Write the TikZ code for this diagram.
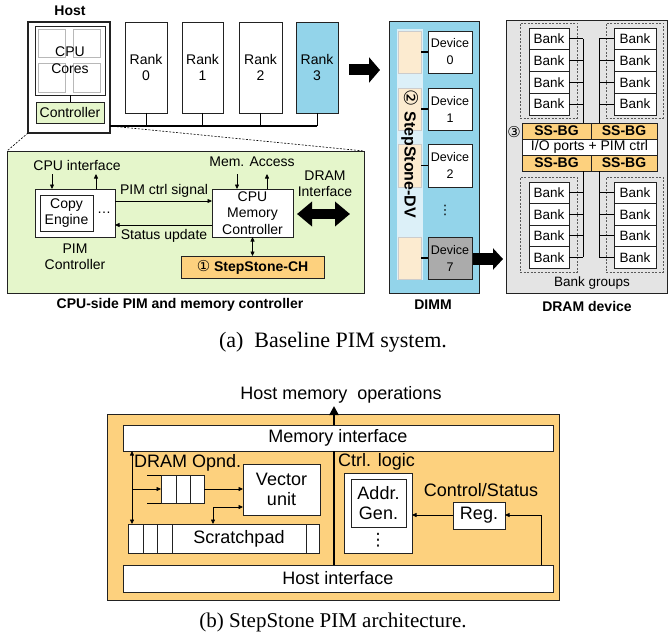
\documentclass[tikz,border=0pt]{standalone}
\usepackage{fontspec}
\setmainfont{Liberation Sans}
\newfontfamily\capfont{Liberation Serif}
\newfontfamily\symfont{DejaVu Sans}
\usetikzlibrary{arrows.meta}
\definecolor{cgreen}{HTML}{E5F6CB}
\definecolor{cblue}{HTML}{93D4EA}
\definecolor{corange}{HTML}{FDD17E}
\definecolor{cpaleor}{HTML}{FCEBD0}
\definecolor{cpalebl}{HTML}{DCF0F8}
\definecolor{cgraybg}{HTML}{E4E4E4}
\definecolor{cdev}{HTML}{ABABAB}
\definecolor{cline}{HTML}{222222}
\newcommand\fsz[2]{\fontsize{#1}{#2}\selectfont}
\newcommand\mybox[7]{%
  \pgfmathsetmacro\myW{#5-#3}%
  \pgfmathsetmacro\myH{#6-#4}%
  \pgfmathsetmacro\myX{(#3+#5)/2}%
  \pgfmathsetmacro\myY{(#4+#6)/2}%
  \node[#2, minimum width=\myW pt, minimum height=\myH pt] (#1) at (\myX,\myY) {#7};}
\begin{document}
\begin{tikzpicture}[x=1pt,y=-1pt,
  plain/.style={inner sep=0pt, outer sep=0pt},
  box/.style={draw=cline, fill=white, line width=0.8pt, inner sep=0pt, outer sep=0pt, align=center, font=\fsz{14}{16.5}},
  bbox/.style={box, font=\fsz{18}{20.5}},
  dev/.style={box, font=\fsz{12.5}{17}},
  bank/.style={box, font=\fsz{13.5}{15}},
  ssbg/.style={box, fill=corange, font=\bfseries\fsz{14}{15}},
  txt/.style={inner sep=0pt, align=center, font=\fsz{14}{16.5}},
  btxt/.style={inner sep=0pt, align=center, font=\fsz{18}{20.5}},
  lbl/.style={inner sep=0pt, font=\bfseries\fsz{14}{16}},
  arr/.style={line width=0.7pt, -{Triangle[length=4.5pt,width=4pt]}},
  darr/.style={line width=0.7pt, {Triangle[length=4.5pt,width=4pt]}-{Triangle[length=4.5pt,width=4pt]}},
  zoomline/.style={line width=0.6pt, dash pattern=on 2pt off 1.5pt},
  grp/.style={draw=black!65, line width=0.8pt, dash pattern=on 2pt off 1.5pt},
]
\useasboundingbox (0,0) rectangle (668,639);

% ---------- Host ----------
\node[lbl] (hostlbl) at (70,11) {Host};
\mybox{host}{box, line width=1.4pt}{28}{22}{110}{133}{}
\mybox{cpu}{box, line width=0.6pt}{35}{26}{105}{95}{}
\mybox{c1}{box, draw=black!28, line width=0.6pt}{38}{29}{65}{57}{}
\mybox{c2}{box, draw=black!28, line width=0.6pt}{73}{29}{100}{57}{}
\mybox{c3}{box, draw=black!28, line width=0.6pt}{38}{63}{65}{92}{}
\mybox{c4}{box, draw=black!28, line width=0.6pt}{73}{63}{100}{92}{}
\node[txt] (cputxt) at (70,60) {CPU\\Cores};
\mybox{ctrl}{box, fill=cgreen}{36}{102}{104}{123}{Controller}
\draw[line width=0.8pt] (cpu.south) -- (ctrl.north);

% ---------- Ranks ----------
\mybox{r0}{box}{125}{22}{167}{113}{Rank\\0}
\mybox{r1}{box}{182}{22}{223}{113}{Rank\\1}
\mybox{r2}{box}{239}{22}{282}{113}{Rank\\2}
\mybox{r3}{box, fill=cblue}{296}{22}{338}{113}{Rank\\3}
\coordinate (busy) at (0,126);
\draw[line width=1.6pt] (host.east |- busy) -- (r3.south |- busy);
\foreach \r in {r0,r1,r2,r3} \draw[line width=1pt] (\r.south) -- (\r.south |- busy);

% ---------- CPU-side controller ----------
\mybox{green}{box, fill=cgreen}{7}{151}{364}{293}{}
\draw[zoomline] (host.south west) -- (green.north west);
\draw[zoomline] (host.east |- busy) -- (green.north east);

\mybox{pim}{box}{35}{189}{115}{237}{}
\mybox{copy}{box}{40}{195}{93}{231}{Copy\\Engine}
\node[txt] (dots1) at (104,213) {\ldots};
\node[txt] (pimlbl) at (75,257) {PIM\\Controller};
\node[txt] (cpuif) at (77,165) {CPU interface};
\coordinate (ci1) at (52,174);
\coordinate (ci2) at (96,174);
\draw[arr] (ci1) -- (ci1 |- pim.north);
\draw[arr] (ci2 |- pim.north) -- (ci2);

\mybox{mc}{box}{212}{189}{293}{237}{CPU\\Memory\\Controller}
\node[txt] (memacc) at (252,162) {Mem. Access};
\coordinate (ma1) at (237,174);
\coordinate (ma2) at (267,174);
\draw[arr] (ma1) -- (ma1 |- mc.north);
\draw[arr] (ma2 |- mc.north) -- (ma2);
\coordinate (sig) at (0,201);
\coordinate (stu) at (0,225);
\draw[arr] (pim.east |- sig) -- (mc.west |- sig);
\draw[arr] (mc.west |- stu) -- (pim.east |- stu);
\node[txt] (siglbl) at (164,191) {PIM ctrl signal};
\node[txt] (stlbl) at (164,236) {Status update};
\mybox{ssch}{box, fill=corange, font=\bfseries\fsz{14}{16}}{181}{256}{324}{278}{{\symfont\mdseries\fsz{15}{16}①} StepStone-CH}
\draw[darr] (mc.south) -- (mc.south |- ssch.north);

\node[txt] (dramif) at (325,184) {DRAM\\Interface};
\coordinate (di1) at (297,214);
\coordinate (di2) at (350,214);
\draw[line width=10pt, {Triangle[length=15pt,width=24pt]}-{Triangle[length=15pt,width=24pt]}] (di1) -- (di2);

% ---------- DIMM ----------
\coordinate (a1s) at (349,70);
\coordinate (a1e) at (380,70);
\draw[line width=11pt, -{Triangle[length=11pt,width=25pt]}] (a1s) -- (a1e);

\mybox{dimm}{box, fill=cblue, line width=1pt}{389}{22}{479}{293}{}
\mybox{strip}{plain, fill=cpalebl}{397}{29}{423}{280}{}
\mybox{p0}{box, fill=cpaleor, draw=black!20}{398}{31}{421}{73}{}
\mybox{p1}{box, fill=cpaleor, draw=black!20}{398}{88}{421}{130}{}
\mybox{p2}{box, fill=cpaleor, draw=black!20}{398}{144}{421}{187}{}
\mybox{p7}{box, fill=cpaleor, draw=black!20}{398}{237}{421}{279}{}
\mybox{d0}{dev}{428}{31}{472}{73}{Device\\0}
\mybox{d1}{dev}{428}{88}{472}{130}{Device\\1}
\mybox{d2}{dev}{428}{144}{472}{187}{Device\\2}
\mybox{d7}{dev, fill=cdev}{428}{237}{472}{279}{Device\\7}
\foreach \a/\b in {p0/d0,p1/d1,p2/d2,p7/d7} \draw[line width=1.5pt] (\a.east) -- (\b.west);
\node[inner sep=0pt, font=\symfont\fsz{13}{14}] (vd1) at (445,210) {⋮};
\node[rotate=-90, inner sep=0pt, font=\bfseries\fsz{16}{18}] (ssdv) at (410,154) {{\symfont\mdseries\fsz{19}{20}②} StepStone-DV};

\coordinate (a2s) at (473,259);
\coordinate (a2e) at (503,259);
\draw[line width=12pt, -{Triangle[length=10pt,width=21pt]}] (a2s) -- (a2e);

% ---------- DRAM device ----------
\mybox{dram}{box, fill=cgraybg}{506}{20}{667}{293}{}
\mybox{g1}{grp, plain}{520}{23}{577}{118}{}
\mybox{g2}{grp, plain}{606}{23}{663}{118}{}
\mybox{g3}{grp, plain}{520}{177}{577}{272}{}
\mybox{g4}{grp, plain}{606}{177}{663}{272}{}
\coordinate (vl) at (583,0);
\coordinate (vr) at (599,0);
\foreach \i/\ya/\yb in {1/28/49.75, 2/49.75/71.5, 3/71.5/93.25, 4/93.25/115}{
  \mybox{ul\i}{bank}{529}{\ya}{569}{\yb}{Bank}
  \mybox{ur\i}{bank}{614}{\ya}{656}{\yb}{Bank}
  \draw[line width=1pt] (ul\i.east) -- (ul\i.east -| vl);
  \draw[line width=1pt] (ur\i.west) -- (ur\i.west -| vr);
}
\foreach \i/\ya/\yb in {1/182/203.5, 2/203.5/225, 3/225/246.5, 4/246.5/268}{
  \mybox{ll\i}{bank}{529}{\ya}{569}{\yb}{Bank}
  \mybox{lr\i}{bank}{614}{\ya}{656}{\yb}{Bank}
  \draw[line width=1pt] (ll\i.east) -- (ll\i.east -| vl);
  \draw[line width=1pt] (lr\i.west) -- (lr\i.west -| vr);
}
\mybox{sg1}{ssbg}{522}{123}{591}{139}{SS-BG}
\mybox{sg2}{ssbg}{591}{123}{657}{139}{SS-BG}
\mybox{io}{box, font=\fsz{14}{15}}{522}{139}{657}{155}{I/O ports + PIM ctrl}
\mybox{sg3}{ssbg}{522}{155}{591}{171}{SS-BG}
\mybox{sg4}{ssbg}{591}{155}{657}{171}{SS-BG}
\draw[line width=1pt] (ul1.east -| vl) -- (sg1.north -| vl);
\draw[line width=1pt] (ur1.west -| vr) -- (sg2.north -| vr);
\draw[line width=1pt] (sg3.south -| vl) -- (ll4.east -| vl);
\draw[line width=1pt] (sg4.south -| vr) -- (lr4.west -| vr);
\node[inner sep=0pt, font=\symfont\fsz{15}{16}] (c3lbl) at (514,132) {③};
\node[inner sep=0pt, font=\fsz{13.5}{15}] (bglbl) at (592,283) {Bank groups};

% ---------- labels & caption a ----------
\node[lbl] (l1) at (180,305) {CPU-side PIM and memory controller};
\node[lbl] (l2) at (433,305) {DIMM};
\node[lbl] (l3) at (587,306) {DRAM device};
\node[inner sep=0pt, font=\capfont\fsz{22}{24}] (capa) at (333,342) {(a)~ Baseline PIM system.};

% ---------- StepStone PIM architecture ----------
\node[btxt] (hmo) at (341,395) {Host memory\ \ operations};
\mybox{pimb}{box, fill=corange, line width=1pt}{107}{414}{559}{600}{}
\mybox{memif}{bbox}{123}{425}{553}{451}{Memory interface}
\mybox{hostif}{bbox}{123}{565}{553}{592}{Host interface}
\coordinate (divx) at (334,0);
\coordinate (hmoa) at (334,406);
\draw[line width=2.2pt] (memif.south -| divx) -- (hostif.north -| divx);
\draw[line width=2.2pt, -{Triangle[length=9pt,width=9pt]}] (memif.north -| divx) -- (hmoa);

\node[btxt, anchor=west] (opnd) at (134,463) {DRAM Opnd.};
\mybox{q1}{box}{161}{475}{176}{503}{}
\mybox{q2}{box}{176}{475}{190}{503}{}
\mybox{q3}{box}{190}{475}{204}{503}{}
\draw[line width=0.8pt] (q1.north west) -- ++(-14,0);
\draw[line width=0.8pt] (q1.south west) -- ++(-14,0);
\mybox{vec}{bbox}{243}{464}{320}{515}{Vector\\unit}
\mybox{s1}{box}{128}{524}{143}{553}{}
\mybox{s2}{box}{143}{524}{157}{553}{}
\mybox{s3}{box}{157}{524}{172}{553}{}
\mybox{scr}{bbox}{172}{524}{306}{553}{Scratchpad}
\mybox{s4}{box}{306}{524}{319}{553}{}
\coordinate (va) at (132,0);
\draw[darr] (memif.south -| va) -- (s1.north -| va);
\draw[arr] (va |- q1.west) -- (q1.west);
\draw[arr] (q3.east) -- (vec.west |- q3.east);
\coordinate (sv) at (213,507);
\draw[darr] (scr.north -| sv) |- (vec.west |- sv);

\node[btxt, anchor=west] (ctlg) at (338,462) {Ctrl. logic};
\mybox{ctl}{box}{344}{473}{412}{553}{}
\mybox{agen}{bbox}{351}{479}{406}{527}{Addr.\\Gen.}
\node[inner sep=0pt, font=\symfont\fsz{17}{18}] (vd2) at (378,540) {⋮};
\node[btxt] (cs) at (481,490) {Control/Status};
\mybox{reg}{bbox}{453}{502}{505}{529}{Reg.}
\coordinate (rl) at (0,515);
\coordinate (hl) at (541,515);
\draw[arr] (reg.west |- rl) -- (ctl.east |- rl);
\draw[arr] (hostif.north -| hl) -- (hl) -- (reg.east |- hl);

\node[inner sep=0pt, font=\capfont\fsz{21}{23}] (capb) at (333,622) {(b) StepStone PIM architecture.};
\end{tikzpicture}
\end{document}
